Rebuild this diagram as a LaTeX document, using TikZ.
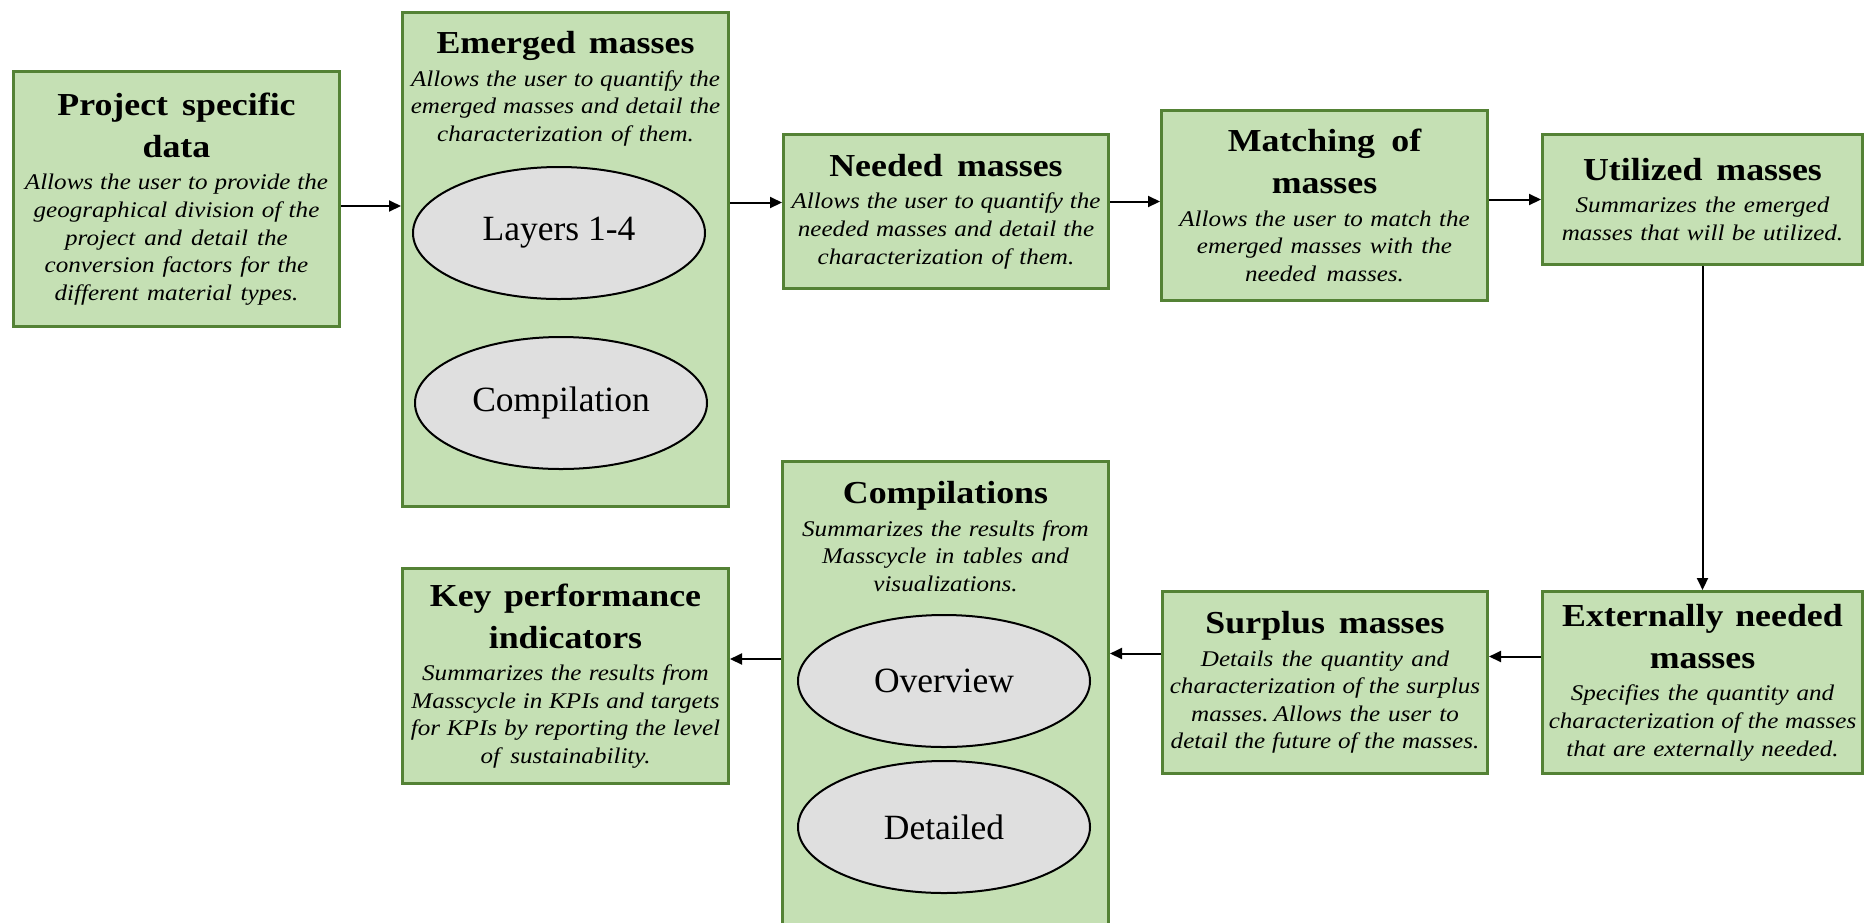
\documentclass[tikz,border=0pt]{standalone}
\usepackage{fontspec}
\setmainfont{Liberation Serif}[FakeStretch=1.12]
\newfontfamily\ovalfont{Liberation Serif}
\usetikzlibrary{arrows.meta,shapes.geometric}
\definecolor{boxfill}{HTML}{C5E0B4}
\definecolor{boxline}{HTML}{548235}
\definecolor{ellfill}{HTML}{DFDFDF}
\newcommand{\boxtitle}{\fontsize{32}{42}\selectfont\bfseries\spaceskip=10pt plus 2pt\relax}
\newcommand{\boxbody}{\fontsize{22.4}{27.6}\selectfont\itshape\spaceskip=6.6pt plus 1pt minus 1pt\relax}
\begin{document}
\begin{tikzpicture}[x=1pt,y=-1pt,
  box/.style={draw=boxline, line width=3pt, fill=boxfill, rectangle, anchor=north west, inner sep=0pt, align=center},
  txt/.style={inner sep=0pt, align=center, text width=320pt, anchor=north},
  oval/.style={ellipse, draw=black, line width=2pt, fill=ellfill, minimum width=292pt, minimum height=132pt, inner sep=0pt, font=\ovalfont\fontsize{35.5}{40}\selectfont},
  arr/.style={line width=2pt, -{Triangle[length=12pt,width=11pt]}}
]
\useasboundingbox (0,0) rectangle (1865,922);

% Project specific data
\node[box, minimum width=326pt, minimum height=255pt, text width=320pt] (proj) at (12,70)
 {{\boxtitle Project specific\\data\par}\vspace{5pt}{\boxbody Allows the user to provide the\\geographical division of the\\project and detail the\\conversion factors for the\\different material types.\par}};

% Emerged masses
\node[box, minimum width=326pt, minimum height=494pt] (em) at (401,11) {};
\node[txt] (emt) at ([yshift=-20pt]em.north)
 {{\boxtitle Emerged masses\par}\vspace{5pt}{\boxbody Allows the user to quantify the\\emerged masses and detail the\\characterization of them.\par}};
\node[oval] (lay) at (559,233) {Layers 1-4};
\node[oval] (cmp) at (561,403) {Compilation};

% Needed masses
\node[box, minimum width=325pt, minimum height=154pt, text width=319pt] (need) at (782,133)
 {{\boxtitle Needed masses\par}\vspace{5pt}{\boxbody Allows the user to quantify the\\needed masses and detail the\\characterization of them.\par}};

% Matching of masses
\node[box, minimum width=326pt, minimum height=190pt, text width=320pt] (match) at (1160,109)
 {{\boxtitle Matching of\\masses\par}\vspace{5pt}{\boxbody Allows the user to match the\\emerged masses with the\\needed masses.\par}};

% Utilized masses
\node[box, minimum width=320pt, minimum height=130pt, text width=316pt] (util) at (1541,133)
 {{\boxtitle Utilized masses\par}\vspace{5pt}{\boxbody Summarizes the emerged\\masses that will be utilized.\par}};

% Externally needed masses
\node[box, minimum width=320pt, minimum height=182pt, text width=316pt] (ext) at (1541,590)
 {{\boxtitle Externally needed\\masses\par}\vspace{5pt}{\boxbody Specifies the quantity and\\characterization of the masses\\that are externally needed.\par}};

% Surplus masses
\node[box, minimum width=325pt, minimum height=182pt, text width=319pt] (sur) at (1161,590)
 {{\boxtitle Surplus masses\par}\vspace{5pt}{\boxbody Details the quantity and\\characterization of the surplus\\masses. Allows the user to\\detail the future of the masses.\par}};

% Compilations
\node[box, minimum width=326pt, minimum height=468pt] (comp) at (781,460) {};
\node[txt] (compt) at ([yshift=-21pt]comp.north)
 {{\boxtitle Compilations\par}\vspace{5pt}{\boxbody Summarizes the results from\\Masscycle in tables and\\visualizations.\par}};
\node[oval] (ovw) at (944,681) {Overview};
\node[oval] (det) at (944,827) {Detailed};

% Key performance indicators
\node[box, minimum width=326pt, minimum height=215pt, text width=320pt] (kpi) at (401,567)
 {{\boxtitle Key performance\\indicators\par}\vspace{5pt}{\boxbody Summarizes the results from\\Masscycle in KPIs and targets\\for KPIs by reporting the level\\of sustainability.\par}};

% Connectors
\draw[arr] ([yshift=-7pt]proj.east) -- ([yshift=-7pt]proj.east -| em.west);
\draw[arr] ([yshift=9pt]need.west -| em.east) -- ([yshift=9pt]need.west);
\draw[arr] ([yshift=10pt]need.east) -- ([yshift=10pt]need.east -| match.west);
\draw[arr] (match.east |- util.west) -- (util.west);
\draw[arr] (util.south) -- (ext.north);
\draw[arr] ([yshift=26pt]ext.west) -- ([yshift=26pt]ext.west -| sur.east);
\draw[arr] ([yshift=29pt]sur.west) -- ([yshift=29pt]sur.west -| comp.east);
\draw[arr] ([yshift=17pt]kpi.east -| comp.west) -- ([yshift=17pt]kpi.east);
\end{tikzpicture}
\end{document}
